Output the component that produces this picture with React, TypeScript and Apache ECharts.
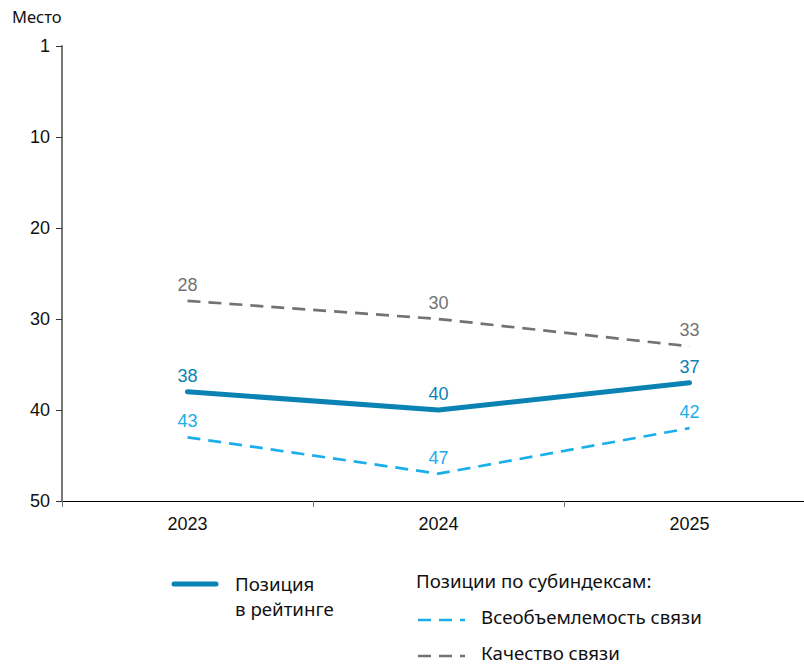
import React, { useEffect, useRef } from "react";
import * as echarts from "echarts";

const years = ["2023", "2024", "2025"];
const overall = [38, 40, 37];
const coverage = [43, 47, 42];
const quality = [28, 30, 33];

const C_MAIN = "#0a82b4";
const C_COVER = "#1aaeea";
const C_QUAL = "#737373";
const FONT = "'Noto Sans', sans-serif";
const NUM_FONT = "'Liberation Sans', Arial, sans-serif";
const LEGEND_SIZE = 18.7;

export default function App() {
  const ref = useRef<HTMLDivElement>(null);
  useEffect(() => {
    if (!ref.current) return;
    const chart = echarts.init(ref.current, null, { renderer: "svg" });
    const lbl = (color: string) => ({
      show: true,
      position: "top" as const,
      distance: 6,
      color,
      fontSize: 18,
      fontFamily: NUM_FONT,
    });
    const pointStyle = {
      symbol: "circle",
      symbolSize: 2,
      showSymbol: true,
      itemStyle: { color: "transparent", borderWidth: 0 },
    };
    chart.setOption({
      animation: false,
      grid: { left: 62, width: 753, top: 46, height: 455, outerBoundsMode: "none", containLabel: false },
      xAxis: {
        type: "category",
        data: years,
        position: "bottom",
        boundaryGap: true,
        axisLine: { onZero: false, lineStyle: { color: "#000", width: 1 } },
        axisTick: { show: true, length: 6, lineStyle: { color: "#777" } },
        axisLabel: { color: "#111", fontSize: 18, fontFamily: NUM_FONT, margin: 14 },
      },
      yAxis: {
        type: "value",
        inverse: true,
        min: 0,
        max: 50,
        interval: 10,
        splitLine: { show: false },
        axisLine: { show: true, lineStyle: { color: "#777", width: 2 } },
        axisTick: { show: true, length: 6, lineStyle: { color: "#333" } },
        axisLabel: {
          color: "#111",
          fontSize: 18,
          fontFamily: NUM_FONT,
          margin: 12,
          formatter: (v: number) => (v === 0 ? "1" : String(v)),
        },
      },
      series: [
        {
          name: "Качество связи",
          type: "line",
          data: quality,
          ...pointStyle,
          lineStyle: { color: C_QUAL, width: 2.7, type: [13, 8] },
          label: lbl(C_QUAL),
        },
        {
          name: "Всеобъемлемость связи",
          type: "line",
          data: coverage,
          ...pointStyle,
          lineStyle: { color: C_COVER, width: 2.7, type: [13, 8] },
          label: lbl(C_COVER),
        },
        {
          name: "Позиция в рейтинге",
          type: "line",
          data: overall,
          ...pointStyle,
          lineStyle: { color: C_MAIN, width: 5, cap: "round" },
          label: lbl(C_MAIN),
        },
      ],
      graphic: [
        {
          type: "text",
          x: 12,
          y: 8,
          style: { text: "Место", fontSize: 16.5, fontFamily: FONT, fill: "#111" },
        },
        {
          type: "line",
          shape: { x1: 174, y1: 584, x2: 216, y2: 584 },
          style: { stroke: C_MAIN, lineWidth: 5, lineCap: "round" },
        },
        {
          type: "text",
          x: 235,
          y: 571,
          style: { text: "Позиция\nв рейтинге", fontSize: LEGEND_SIZE, lineHeight: 25, fontFamily: FONT, fill: "#111" },
        },
        {
          type: "text",
          x: 416,
          y: 571,
          style: { text: "Позиции по субиндексам:", fontSize: LEGEND_SIZE, fontFamily: FONT, fill: "#111" },
        },
        {
          type: "line",
          shape: { x1: 418, y1: 620, x2: 465, y2: 620 },
          style: { stroke: C_COVER, lineWidth: 2.7, lineDash: [13, 8] },
        },
        {
          type: "text",
          x: 481,
          y: 607,
          style: { text: "Всеобъемлемость связи", fontSize: LEGEND_SIZE, fontFamily: FONT, fill: "#111" },
        },
        {
          type: "line",
          shape: { x1: 418, y1: 656, x2: 465, y2: 656 },
          style: { stroke: C_QUAL, lineWidth: 2.7, lineDash: [13, 8] },
        },
        {
          type: "text",
          x: 481,
          y: 643,
          style: { text: "Качество связи", fontSize: LEGEND_SIZE, fontFamily: FONT, fill: "#111" },
        },
      ],
    });
    return () => chart.dispose();
  }, []);
  return (
    <div
      ref={ref}
      style={{ position: "absolute", left: 0, top: 0, width: 804, height: 665, background: "#fff" }}
    />
  );
}
